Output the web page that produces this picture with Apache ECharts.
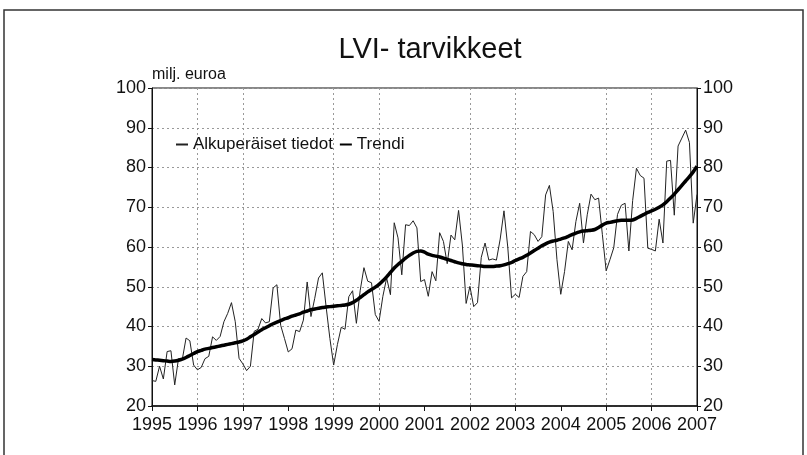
<!DOCTYPE html>
<html>
<head>
<meta charset="utf-8">
<script src="https://cdn.jsdelivr.net/npm/echarts@6/dist/echarts.min.js"></script>
<style>
  html, body { margin: 0; padding: 0; background: #fff; }
  #chart { width: 807px; height: 455px; }
</style>
</head>
<body>
<div id="chart"></div>
<script>
// kuukausittaiset tiedot 1995-01 ... 2007-01
const startYear = 1995
const endYear = 2007
const months = []
for (let y = startYear; y <= endYear; y++) {
  for (let m = 1; m <= 12; m++) {
    if (y === endYear && m > 1) break
    months.push(y + '-' + (m < 10 ? '0' + m : m))
  }
}

// Alkuperäiset tiedot, milj. euroa
const original = [
  26.4, 26.2, 30.0, 26.8, 33.7, 33.9, 25.3, 31.9, 31.7, 37.1, 36.4, 30.3,
  29.1, 29.7, 31.9, 32.5, 37.4, 36.5, 37.5, 41.2, 43.3, 46.0, 41.2, 32.0,
  30.6, 28.9, 30.0, 38.8, 39.3, 42.0, 40.9, 41.2, 49.7, 50.5, 40.3, 37.0,
  33.6, 34.4, 39.1, 38.7, 41.6, 51.2, 42.5, 47.1, 52.2, 53.5, 45.0, 37.0,
  30.3, 35.5, 39.8, 39.3, 47.5, 49.0, 40.8, 49.0, 54.8, 51.4, 51.0, 43.0,
  41.3, 47.6, 52.2, 48.0, 66.1, 62.3, 53.0, 65.6, 65.4, 66.6, 64.8, 51.3,
  51.8, 47.6, 53.8, 51.5, 63.6, 61.4, 55.8, 63.0, 61.8, 69.2, 60.5, 45.8,
  50.1, 45.0, 46.0, 57.4, 61.0, 56.7, 57.0, 56.7, 62.0, 69.1, 60.0, 47.2,
  48.1, 47.3, 52.6, 53.8, 63.9, 63.1, 61.4, 62.6, 73.1, 75.5, 68.9, 56.8,
  48.1, 53.8, 61.4, 59.3, 66.4, 71.0, 61.0, 68.1, 73.3, 71.9, 72.3, 63.1,
  54.0, 56.8, 59.8, 68.2, 70.5, 71.0, 59.0, 71.7, 79.8, 78.0, 77.3, 59.7,
  59.4, 59.0, 67.0, 61.0, 81.6, 81.8, 68.0, 85.4, 87.4, 89.4, 86.3, 66.0,
  73.2
]

// Trendi
const trend = [
  31.7, 31.6, 31.5, 31.4, 31.3, 31.2, 31.3, 31.5, 31.8, 32.2, 32.7, 33.2,
  33.7, 34.0, 34.3, 34.5, 34.7, 34.9, 35.1, 35.3, 35.5, 35.7, 35.9, 36.1,
  36.4, 36.8, 37.4, 38.0, 38.6, 39.2, 39.7, 40.2, 40.7, 41.1, 41.5, 41.9,
  42.2, 42.6, 42.9, 43.2, 43.6, 43.9, 44.2, 44.4, 44.6, 44.8, 44.9, 45.0,
  45.1, 45.2, 45.3, 45.4, 45.6, 46.0, 46.6, 47.3, 48.0, 48.7, 49.3, 49.9,
  50.6, 51.5, 52.5, 53.6, 54.7, 55.6, 56.4, 57.2, 57.9, 58.5, 58.9, 59.0,
  58.7, 58.2, 57.9, 57.7, 57.5, 57.2, 56.9, 56.6, 56.3, 56.0, 55.8, 55.6,
  55.5, 55.4, 55.3, 55.2, 55.1, 55.1, 55.1, 55.2, 55.3, 55.5, 55.8, 56.1,
  56.6, 57.0, 57.4, 57.9, 58.5, 59.1, 59.7, 60.3, 60.8, 61.2, 61.5, 61.7,
  62.0, 62.3, 62.7, 63.1, 63.5, 63.8, 64.0, 64.1, 64.2, 64.4, 64.9, 65.5,
  66.0, 66.2, 66.4, 66.6, 66.7, 66.7, 66.7, 66.8, 67.2, 67.7, 68.2, 68.7,
  69.1, 69.5, 70.0, 70.6, 71.4, 72.3, 73.3, 74.4, 75.5, 76.6, 77.7, 78.9,
  80.3
]

// vuodet, joilla pystyviiva näkyy kuvassa
const gridYears = [1996, 1997, 1999, 2000, 2002, 2003, 2005, 2006]

const chart = echarts.init(document.getElementById('chart'))
const font = 'Liberation Sans, Arial, sans-serif'

const yAxisBase = {
  type: 'value',
  min: 20,
  max: 100,
  interval: 10,
  axisLine: { show: true, lineStyle: { color: '#111', width: 1 } },
  axisTick: { show: true, inside: false, length: 4, lineStyle: { color: '#111' } },
  axisLabel: { color: '#111', fontSize: 18, fontFamily: font, margin: 6 }
}

chart.setOption({
  animation: false,
  backgroundColor: '#fff',
  title: {
    text: 'LVI- tarvikkeet',
    left: 425,
    textAlign: 'center',
    top: 30,
    textStyle: { color: '#111', fontSize: 29, fontWeight: 'normal', fontFamily: font }
  },
  graphic: [
    {
      type: 'rect',
      shape: { x: 4, y: 10, width: 799, height: 470 },
      style: { fill: 'none', stroke: '#333', lineWidth: 1.5 },
      silent: true
    }
  ],
  legend: {
    left: 170,
    top: 131,
    itemWidth: 12,
    itemHeight: 2,
    itemGap: 6,
    itemStyle: { opacity: 0 },
    textStyle: { color: '#111', fontSize: 17, fontFamily: font },
    data: ['Alkuperäiset tiedot', 'Trendi']
  },
  grid: {
    left: 152,
    right: 110,
    top: 88,
    bottom: 49,
    show: true,
    borderColor: '#111',
    borderWidth: 1
  },
  xAxis: {
    type: 'category',
    data: months,
    boundaryGap: false,
    axisLine: { show: true, lineStyle: { color: '#111', width: 1.5 } },
    axisTick: { show: true, interval: 11, length: 5, lineStyle: { color: '#111' } },
    axisLabel: {
      interval: 11,
      color: '#111',
      fontSize: 18,
      fontFamily: font,
      margin: 10,
      formatter: v => v.slice(0, 4)
    },
    splitLine: {
      show: true,
      interval: (i, v) => i % 12 === 0 && gridYears.indexOf(Number(v.slice(0, 4))) >= 0,
      lineStyle: { color: '#999', type: [2, 3], width: 1 }
    }
  },
  yAxis: [
    Object.assign({}, yAxisBase, {
      position: 'left',
      name: 'milj. euroa',
      nameLocation: 'end',
      nameGap: 5,
      nameTextStyle: { color: '#111', fontSize: 16, fontFamily: font, align: 'left' },
      splitLine: { show: true, lineStyle: { color: '#999', type: [2, 3], width: 1 } }
    }),
    Object.assign({}, yAxisBase, {
      position: 'right',
      splitLine: { show: false }
    })
  ],
  series: [
    {
      name: 'Alkuperäiset tiedot',
      type: 'line',
      data: original,
      showSymbol: false,
      symbol: 'none',
      lineStyle: { color: '#222', width: 1 },
      itemStyle: { color: '#222' }
    },
    {
      name: 'Trendi',
      type: 'line',
      data: trend,
      showSymbol: false,
      symbol: 'none',
      smooth: 0.3,
      lineStyle: { color: '#000', width: 3.5 },
      itemStyle: { color: '#000' }
    }
  ]
})
</script>
</body>
</html>
